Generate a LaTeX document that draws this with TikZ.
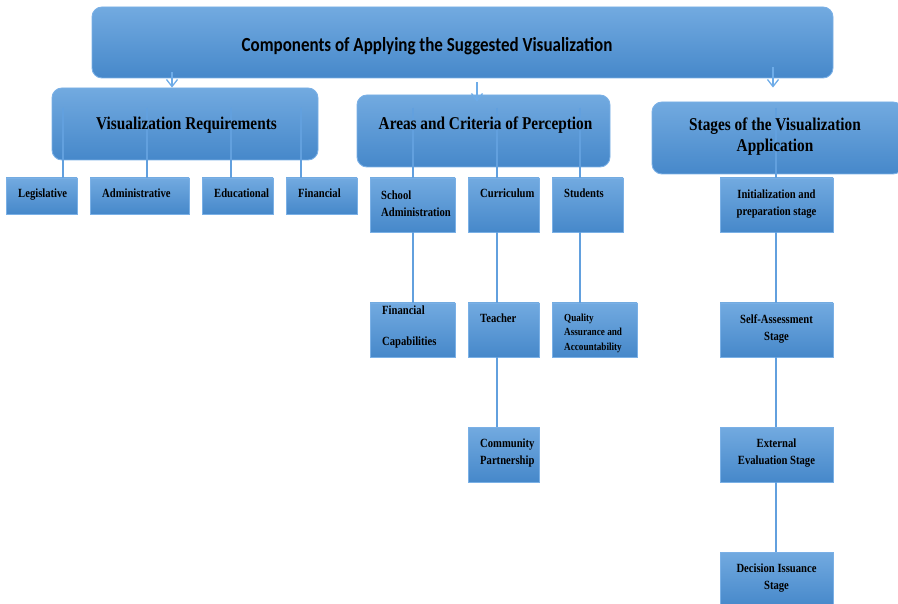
\documentclass[tikz,border=0pt]{standalone}
\usepackage{fontspec}
\setmainfont{Liberation Serif}
\newfontfamily\tnrfont[FakeStretch=0.85]{Liberation Serif}
\newfontfamily\titlefont[FakeStretch=0.85]{Carlito}
\usetikzlibrary{arrows.meta}
\definecolor{btop}{RGB}{114,170,224}
\definecolor{bbot}{RGB}{70,136,202}
\definecolor{bdraw}{RGB}{122,176,230}
\definecolor{bline}{RGB}{98,160,222}
\definecolor{barrow}{RGB}{110,172,232}
\tikzset{
  big/.style={draw=bdraw, line width=0.9pt, rounded corners=10pt, top color=btop, bottom color=bbot, inner sep=0pt},
  leaf/.style={draw=bdraw, line width=0.9pt, top color=btop, bottom color=bbot, inner sep=0pt},
  conn/.style={draw=bline, line width=1.2pt},
  arr/.style={draw=barrow, line width=1.3pt, -{Straight Barb[length=7pt,width=11pt]}},
  bigtxt/.style={font=\tnrfont\bfseries\fontsize{18}{21}\selectfont, align=center, inner sep=0pt},
  lt/.style={font=\tnrfont\bfseries\fontsize{12.5}{17}\selectfont, align=left, anchor=mid west, inner sep=0pt},
  ltm/.style={font=\tnrfont\bfseries\fontsize{12.5}{17}\selectfont, align=left, anchor=west, inner sep=0pt},
  ct/.style={font=\tnrfont\bfseries\fontsize{12.5}{17}\selectfont, align=center, inner sep=0pt},
}
\begin{document}
\begin{tikzpicture}[x=1pt,y=-1pt]
\useasboundingbox (0,0) rectangle (898,604);
% main boxes
\node[big, minimum width=741pt, minimum height=71pt] (top) at (462.5,42.5) {};
\node[big, minimum width=266pt, minimum height=72pt] (vr) at (185,124) {};
\node[big, minimum width=253pt, minimum height=72pt] (ac) at (483.5,131) {};
\node[big, minimum width=251pt, minimum height=72pt] (st) at (777.5,138) {};
% arrows from top
\coordinate (a1) at (172,0);
\coordinate (a2) at (477,0);
\coordinate (a3) at (773,0);
\draw[arr] ([yshift=6pt]top.south -| a1) -- (vr.north -| a1);
\draw[arr] ([yshift=-4pt]top.south -| a2) -- ([yshift=-7pt]ac.north -| a2);
\draw[arr] ([yshift=11pt]top.south -| a3) -- ([yshift=14pt]st.north -| a3);
% leafs
\node[leaf, minimum width=71pt, minimum height=36pt] (leg) at (41.5,196) {};
\node[leaf, minimum width=99pt, minimum height=36pt] (adm) at (139.5,196) {};
\node[leaf, minimum width=71pt, minimum height=36pt] (edu) at (237.5,196) {};
\node[leaf, minimum width=71pt, minimum height=36pt] (fin) at (321.5,196) {};
\node[leaf, minimum width=85pt, minimum height=54pt] (sch) at (412.5,205) {};
\node[leaf, minimum width=71pt, minimum height=54pt] (cur) at (503.5,205) {};
\node[leaf, minimum width=71pt, minimum height=54pt] (stu) at (587.5,205) {};
\node[leaf, minimum width=113pt, minimum height=54pt] (ini) at (776.5,205) {};
\node[leaf, minimum width=85pt, minimum height=54pt] (fc) at (412.5,330) {};
\node[leaf, minimum width=71pt, minimum height=54pt] (tea) at (503.5,330) {};
\node[leaf, minimum width=85pt, minimum height=54pt] (qa) at (594.5,330) {};
\node[leaf, minimum width=113pt, minimum height=54pt] (sas) at (776.5,330) {};
\node[leaf, minimum width=71pt, minimum height=55pt] (com) at (503.5,454.5) {};
\node[leaf, minimum width=113pt, minimum height=55pt] (ext) at (776.5,454.5) {};
\node[leaf, minimum width=113pt, minimum height=55pt] (dec) at (776.5,579.5) {};
% connectors
\coordinate (v1) at (63,108);
\coordinate (v2) at (147,108);
\coordinate (v3) at (231,108);
\coordinate (v4) at (301,108);
\coordinate (v5) at (413,108);
\coordinate (v6) at (497,108);
\coordinate (v7) at (580,108);
\coordinate (v8) at (776,108);
\draw[conn] (v1) -- (v1 |- leg.north);
\draw[conn] (v2) -- (v2 |- adm.north);
\draw[conn] (v3) -- (v3 |- edu.north);
\draw[conn] (v4) -- (v4 |- fin.north);
\draw[conn] (v5) -- (v5 |- sch.north);
\draw[conn] (v6) -- (v6 |- cur.north);
\draw[conn] (v7) -- (v7 |- stu.north);
\draw[conn] (v8) -- (v8 |- ini.north);
\draw[conn] (sch.south -| v5) -- (fc.north -| v5);
\draw[conn] (cur.south -| v6) -- (tea.north -| v6);
\draw[conn] (tea.south -| v6) -- (com.north -| v6);
\draw[conn] (stu.south -| v7) -- (qa.north -| v7);
\draw[conn] (ini.south -| v8) -- (sas.north -| v8);
\draw[conn] (sas.south -| v8) -- (ext.north -| v8);
\draw[conn] (ext.south -| v8) -- (dec.north -| v8);
% texts
\node[font=\titlefont\bfseries\fontsize{20}{24}\selectfont, inner sep=0pt] (ttop) at (427,46) {Components of Applying the Suggested Visualization};
\node[bigtxt] (tvr) at (186.5,125) {Visualization Requirements};
\node[bigtxt] (tac) at (485.5,125) {Areas and Criteria of Perception};
\node[bigtxt] (tst) at (775,137) {Stages of the Visualization\\Application};
\node[lt] (tleg) at (18,195) {Legislative};
\node[lt] (tadm) at (102,195) {Administrative};
\node[lt] (tedu) at (214,195) {Educational};
\node[lt] (tfin) at (298,195) {Financial};
\node[ltm] (tsch) at (381,204) {School\\Administration};
\node[lt] (tcur) at (480,195) {Curriculum};
\node[lt] (tstu) at (564,195) {Students};
\node[ct] (tini) at (776.5,204) {Initialization and\\preparation stage};
\node[ltm] (tfc) at (382,327) {Financial\\[14pt]Capabilities};
\node[lt] (ttea) at (480,320) {Teacher};
\node[ltm, font=\tnrfont\bfseries\fontsize{10.8}{14.5}\selectfont] (tqa) at (564,333) {Quality\\Assurance and\\Accountability};
\node[ltm] (tcom) at (480,453) {Community\\Partnership};
\node[ct] (tsas) at (776.5,329) {Self-Assessment\\Stage};
\node[ct] (text) at (776.5,453) {External\\Evaluation Stage};
\node[ct] (tdec) at (776.5,578) {Decision Issuance\\Stage};
\end{tikzpicture}
\end{document}
